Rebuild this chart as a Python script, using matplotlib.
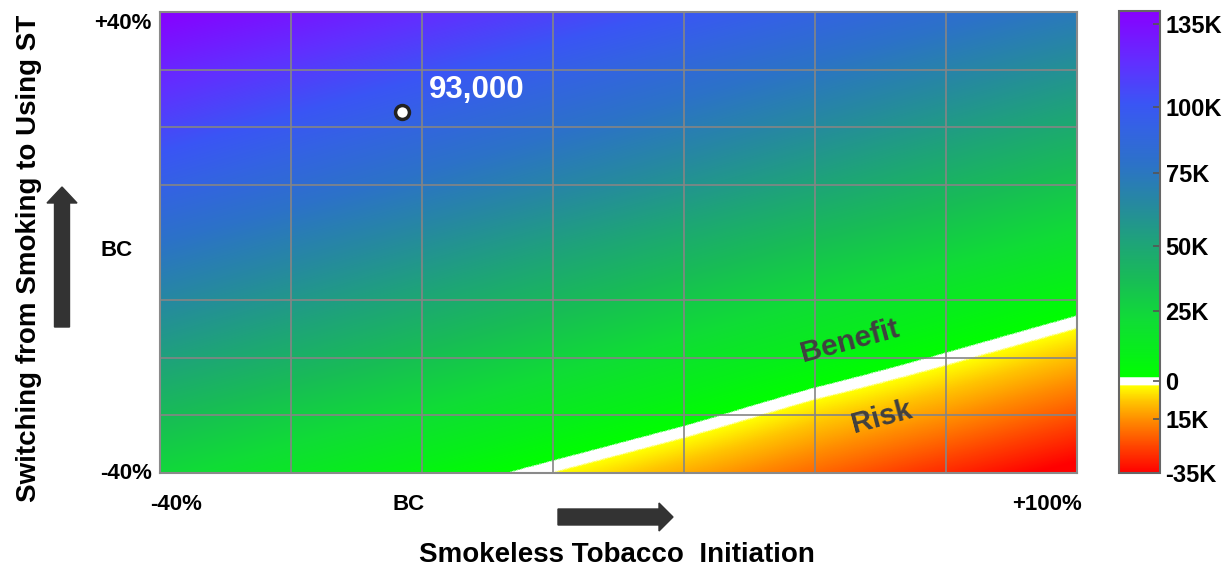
import matplotlib
matplotlib.use("Agg")
import matplotlib.pyplot as plt
import matplotlib.transforms as mtransforms
import numpy as np
from matplotlib.colors import LinearSegmentedColormap, Normalize
from matplotlib.patches import FancyArrow

plt.rcParams["font.family"] = ["Liberation Sans", "DejaVu Sans"]
plt.rcParams["font.weight"] = "bold"

# grid nodes (percent change) and outcome values at each node (thousands)
x_nodes = [-40, -20, 0, 20, 40, 60, 80, 100]
y_nodes = [-40, -30, -20, -10, 0, 10, 20, 30, 40]
values_k = [
    [25, 16, 7, -2, -11, -20, -29, -38],
    [39, 30, 22, 13, 4, -6, -14, -23],
    [54, 45, 36, 27, 18, 9, 0, -9],
    [68, 59, 50, 41, 32, 23, 14, 5],
    [82, 73, 64, 55, 46, 37, 29, 20],
    [97, 88, 79, 70, 61, 52, 43, 34],
    [111, 102, 93, 84, 75, 66, 57, 48],
    [125, 116, 107, 98, 89, 80, 71, 62],
    [140, 131, 122, 113, 104, 95, 86, 77],
]

bc_x = -2
point_x = [-3]
point_y = [22.6]
point_label = "93,000"

# colorbar labels sit where the original put them (not exactly on scale)
cbar_tick_pos = [135, 103.5, 78.5, 51, 26.5, 0, -14.5, -35]
cbar_labels = ["135K", "100K", "75K", "50K", "25K", "0", "15K", "-35K"]

vmin, vmax = -35, 140
cmap_stops = [
    (-35, "#ff0000"), (-25, "#ff4400"), (-15, "#ff8c00"), (-8, "#ffc400"),
    (-2.2, "#ffff00"), (-1.6, "#ffffff"), (1.0, "#ffffff"), (1.4, "#00ff00"),
    (10, "#06f018"), (23, "#10dc36"), (38, "#18bc56"), (52, "#1ea478"),
    (67, "#2689a0"), (82, "#2c72c8"), (96, "#3462e4"), (105, "#3a55f5"),
    (120, "#6030ff"), (140, "#8800ff"),
]
cmap = LinearSegmentedColormap.from_list(
    "benefit_risk", [((v - vmin) / (vmax - vmin), c) for v, c in cmap_stops], N=1024
)
cmap.set_under("#ff0000")
cmap.set_over("#8800ff")

fig = plt.figure(figsize=(12.25, 5.68), dpi=100)
W, H = 1225, 568
ax = fig.add_axes([160 / W, 1 - 473 / H, (1077 - 160) / W, (473 - 12) / H])
cax = fig.add_axes([1119 / W, 1 - 473 / H, (1160 - 1119) / W, (473 - 11) / H])

dx = x_nodes[1] - x_nodes[0]
dy = y_nodes[1] - y_nodes[0]
im = ax.imshow(
    np.array(values_k, dtype=float),
    origin="lower",
    extent=(x_nodes[0] - dx / 2, x_nodes[-1] + dx / 2, y_nodes[0] - dy / 2, y_nodes[-1] + dy / 2),
    cmap=cmap,
    norm=Normalize(vmin=vmin, vmax=vmax),
    interpolation="bilinear",
    interpolation_stage="data",
    aspect="auto",
)
ax.set_xlim(x_nodes[0], x_nodes[-1])
ax.set_ylim(y_nodes[0], y_nodes[-1])

# grid on minor ticks
ax.set_xticks(x_nodes[1:-1], minor=True)
ax.set_yticks(y_nodes[1:-1], minor=True)
ax.grid(which="minor", color="#858585", linewidth=1.2)
ax.tick_params(which="both", length=0)
for s in ax.spines.values():
    s.set_color("#8a8a8a")
    s.set_linewidth(1.5)

ax.set_xticks([x_nodes[0], bc_x, x_nodes[-1]], ["-40%", "BC", "+100%"])
ax.set_yticks([y_nodes[0], 0, y_nodes[-1]], ["-40%", "BC", "+40%"])
ax.tick_params(axis="x", pad=15, labelsize=16)
ax.tick_params(axis="y", pad=6, labelsize=16)


def shift(label, px, py):
    off = mtransforms.ScaledTranslation(px / 100, py / 100, fig.dpi_scale_trans)
    label.set_transform(label.get_transform() + off)


xl = ax.get_xticklabels()
shift(xl[0], 16, 0)
shift(xl[2], -30, 0)
yl = ax.get_yticklabels()
shift(yl[0], 0, 2)
shift(yl[1], -19, -5)
shift(yl[2], 0, -9)

ax.plot(point_x, point_y, "o", ms=10, mfc="white", mec="#222222", mew=2.5, zorder=5)
ax.annotate(point_label, (point_x[0], point_y[0]), xytext=(19, 16), textcoords="offset points",
            color="white", fontsize=22.5, fontweight="bold", va="center", ha="left")

ax.text(65.3, -17.1, "Benefit", rotation=15, rotation_mode="anchor", ha="center", va="center",
        fontsize=21.5, color="#404040", fontweight="bold")
ax.text(70.2, -30.4, "Risk", rotation=15, rotation_mode="anchor", ha="center", va="center",
        fontsize=21, color="#404040", fontweight="bold")

cb = fig.colorbar(im, cax=cax, ticks=cbar_tick_pos)
cb.ax.set_yticklabels(cbar_labels)
cb.ax.tick_params(direction="in", length=5, width=1.2, color="#555555", labelsize=17, pad=4)
cb.outline.set_edgecolor("#666666")
cb.outline.set_linewidth(1.5)

# overlay for axis titles and arrows (pixel space)
ov = fig.add_axes([0, 0, 1, 1], zorder=-1)
ov.set_xlim(0, W)
ov.set_ylim(H, 0)
ov.axis("off")
ov.add_patch(FancyArrow(62, 327, 0, -140, width=15, head_width=30, head_length=16,
                        length_includes_head=True, color="#333333"))
ov.add_patch(FancyArrow(558, 517, 115, 0, width=16, head_width=28, head_length=14,
                        length_includes_head=True, color="#333333"))
ov.text(29, 258, "Switching from Smoking to Using ST", rotation=90, ha="center", va="center",
        fontsize=20, fontweight="bold")
ov.text(617, 555, "Smokeless Tobacco  Initiation", ha="center", va="center",
        fontsize=20, fontweight="bold")

fig.savefig("out.png", dpi=100)
